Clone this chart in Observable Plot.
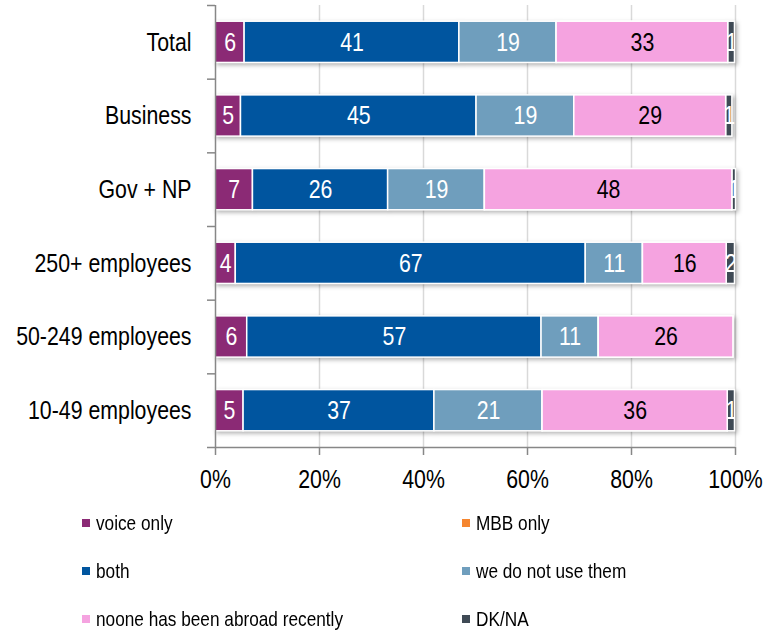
<!DOCTYPE html>
<html><head><meta charset="utf-8">
<script src="https://cdn.jsdelivr.net/npm/d3@7"></script>
<script src="https://cdn.jsdelivr.net/npm/@observablehq/plot@0.6"></script>
<style>
body{margin:0;background:#fff;}
#chart{position:relative;width:764px;height:630px;overflow:hidden;font-family:"Liberation Sans",Arial,sans-serif;}
#chart svg{display:block;}
.legend{position:absolute;left:82px;top:499px;display:grid;grid-template-columns:380px 300px;grid-auto-rows:48px;font-size:21px;color:#000;}
.legend .item{display:flex;align-items:center;white-space:nowrap;}
.legend .sw{width:8px;height:8px;margin-right:6px;flex:none;}
.legend .tx{display:inline-block;transform:scaleX(0.82);transform-origin:left center;}
</style></head><body><div id="chart"></div>
<script>
// ---- data ----
const categories = ["Total", "Business", "Gov + NP", "250+ employees", "50-249 employees", "10-49 employees"];
const seriesNames = ["voice only", "MBB only", "both", "we do not use them", "noone has been abroad recently", "DK/NA"];
const seriesColors = ["#8B2A75", "#F5862F", "#00559F", "#6F9EBD", "#F5A3E0", "#3F4A55"];
const voiceOnly = [5.6, 4.9, 7.2, 3.9, 6.1, 5.4];
const mbbOnly   = [0, 0, 0, 0, 0, 0];
const both      = [41.3, 45.3, 26.0, 67.3, 56.6, 36.7];
const notUse    = [18.7, 18.8, 18.6, 11.0, 11.0, 20.8];
const abroad    = [33.0, 29.2, 47.6, 16.1, 25.9, 35.6];
const dkna      = [1.3, 1.2, 0.7, 1.6, 0, 1.4];
const xTicks = [0, 20, 40, 60, 80, 100];

const seriesValues = [voiceOnly, mbbOnly, both, notUse, abroad, dkna];
const pinkName = seriesNames[4];
const rows = [];
categories.forEach((c, i) => seriesNames.forEach((s, j) => {
  const v = seriesValues[j][i];
  if (v > 0) rows.push({cat: c, series: s, value: v});
}));

const W = 764, H = 500, mT = 5, mB = 53, mL = 215, mR = 29;
const step = (H - mT - mB) / categories.length;
const FONT = '"Liberation Sans",Arial,sans-serif';
const axisGray = "#878787";
const so = {x: "value", y: "cat", z: "series"};
const lab = d => String(Math.round(d.value));

const plot = Plot.plot({
  width: W, height: H, marginTop: mT, marginBottom: mB, marginLeft: mL, marginRight: mR,
  style: {fontFamily: FONT, fontSize: "26px", color: "black", background: "white", overflow: "visible"},
  x: {domain: [0, 100], axis: null, label: null},
  y: {domain: categories, axis: null, label: null, paddingInner: 0.44, paddingOuter: 0.22, round: false},
  color: {domain: seriesNames, range: seriesColors},
  opacity: {domain: [0, 1], range: [0, 1]},
  marks: [
    Plot.gridX(xTicks.filter(d => d > 0), {stroke: "#d9d9d9", strokeOpacity: 1, strokeWidth: 1.5}),
    Plot.barX(rows, Plot.stackX({...so, fill: "series", stroke: "white", strokeWidth: 1.5})),
    Plot.text(rows, Plot.stackX({...so, text: d => d.series === pinkName ? "" : lab(d), fill: "white", fontSize: 26, clip: true})),
    Plot.barX(rows, Plot.stackX({...so, fill: "series",
      fillOpacity: d => d.series === pinkName ? 1 : 0,
      strokeOpacity: d => d.series === pinkName ? 1 : 0,
      stroke: "white", strokeWidth: 1.5})),
    Plot.text(rows, Plot.stackX({...so, text: d => d.series === pinkName ? lab(d) : "", fill: "black", fontSize: 26})),
    Plot.ruleX([0], {stroke: axisGray, strokeWidth: 1.5}),
    Plot.ruleY([categories[categories.length - 1]], {x1: 0, x2: 100, dy: step / 2, stroke: axisGray, strokeWidth: 1.5}),
    Plot.axisY({tickSize: 0, tickPadding: 24, fontSize: 26, fill: "black", label: null}),
    Plot.axisY(categories, {tickSize: 8, tickFormat: () => "", dy: -step / 2, stroke: axisGray, strokeWidth: 1.5, label: null}),
    Plot.axisY([categories[categories.length - 1]], {tickSize: 8, tickFormat: () => "", dy: step / 2, stroke: axisGray, strokeWidth: 1.5, label: null}),
    Plot.axisX(xTicks, {tickSize: 8, tickPadding: 14, tickFormat: d => d + "%", fontSize: 26, stroke: axisGray, strokeWidth: 1.5, fill: "black", label: null})
  ]
});

const chart = document.getElementById("chart");
chart.appendChild(plot);
const firstBars = plot.querySelector('g[aria-label="bar"]');
if (firstBars) firstBars.style.filter = "drop-shadow(2px 2px 2px rgba(0,0,0,0.3))";

// condense the text horizontally about its anchor (the reference uses a narrow typeface)
plot.querySelectorAll("text").forEach(t => {
  if (!t.textContent) return;
  const tr = t.getAttribute("transform");
  if (tr && tr.includes("translate")) {
    t.setAttribute("transform", tr + " scale(0.82,1)");
  } else {
    const x = +(t.getAttribute("x") || 0), y = +(t.getAttribute("y") || 0);
    t.removeAttribute("x"); t.removeAttribute("y");
    t.setAttribute("transform", (tr ? tr + " " : "") + `translate(${x},${y}) scale(0.82,1)`);
  }
});

const legend = document.createElement("div");
legend.className = "legend";
seriesNames.forEach((s, i) => {
  const it = document.createElement("div");
  it.className = "item";
  const sw = document.createElement("span");
  sw.className = "sw";
  sw.style.background = seriesColors[i];
  const t = document.createElement("span");
  t.className = "tx";
  t.textContent = s;
  it.appendChild(sw); it.appendChild(t);
  legend.appendChild(it);
});
chart.appendChild(legend);
</script>
</body></html>
